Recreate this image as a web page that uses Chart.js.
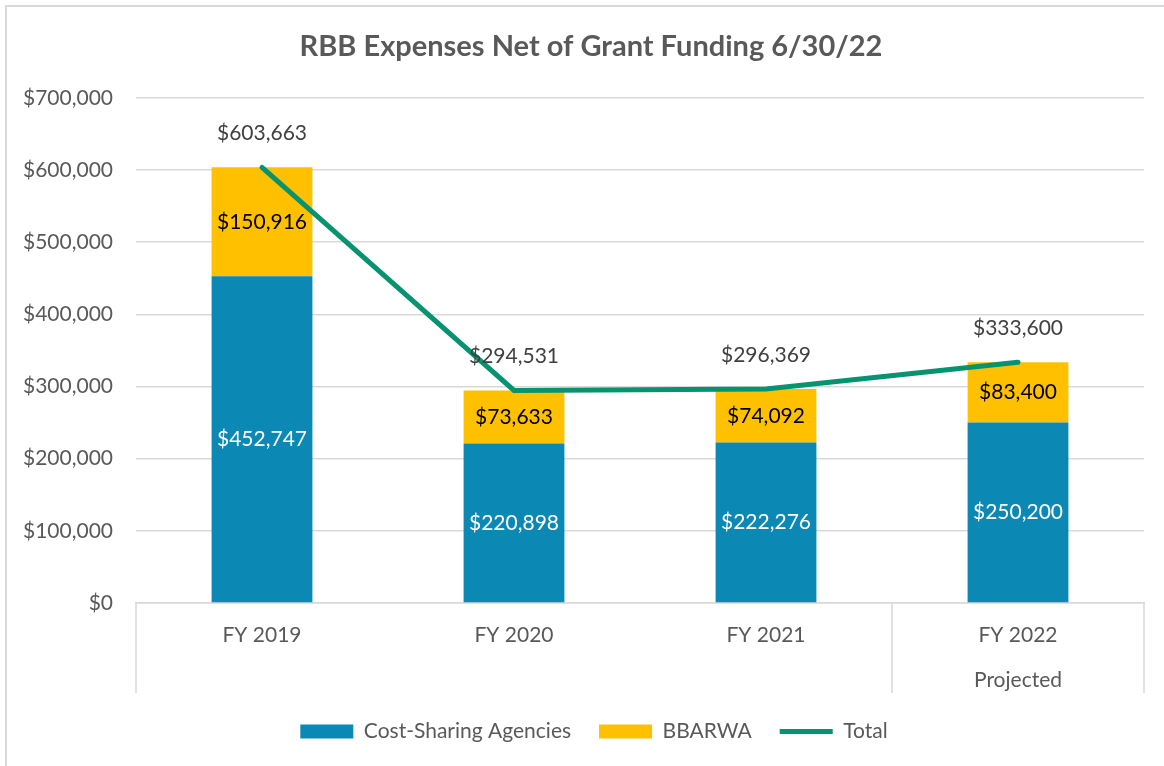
<!DOCTYPE html>
<html lang="en">
<head>
  <meta charset="UTF-8">
  <title>RBB Expenses Net of Grant Funding 6/30/22</title>
  <script src="https://cdn.jsdelivr.net/npm/chart.js"></script>
  <style>
    html, body {
      margin: 0;
      padding: 0;
      background: #fff;
      overflow: hidden;
    }
    #wrap {
      position: relative;
      width: 1164px;
      height: 766px;
    }
    #frame {
      position: absolute;
      left: 5px;
      top: 5px;
      width: 1200px;
      height: 800px;
      border: 2px solid #d9d9d9;
      pointer-events: none;
    }
  </style>
</head>
<body>
  <div id="wrap">
    <div id="frame"></div>
    <canvas id="chart" width="1164" height="766"></canvas>
  </div>

  <script>
    const years = [["FY 2019"], ["FY 2020"], ["FY 2021"], ["FY 2022", "Projected"]];
    const costSharing = [452747, 220898, 222276, 250200];
    const bbarwa = [150916, 73633, 74092, 83400];
    const totals = [603663, 294531, 296369, 333600];
    const yTicks = [0, 100000, 200000, 300000, 400000, 500000, 600000, 700000];

    const money = v => "$" + Number(v).toLocaleString("en-US");
    const FONT = "Lato, 'Open Sans', sans-serif";

    // value labels on bars and above the total line
    const valueLabels = {
      id: "valueLabels",
      afterDatasetsDraw(chart) {
        const ctx = chart.ctx;
        ctx.save();
        ctx.textAlign = "center";
        ctx.textBaseline = "middle";
        ctx.font = "21px " + FONT;
        chart.data.datasets.forEach((ds, i) => {
          const meta = chart.getDatasetMeta(i);
          meta.data.forEach((el, j) => {
            const v = ds.data[j];
            if (ds.type === "line") {
              ctx.fillStyle = "#404040";
              ctx.fillText(money(v), el.x, el.y - 34);
            } else {
              const c = el.getCenterPoint();
              ctx.fillStyle = ds.labelColor;
              ctx.fillText(money(v), c.x, c.y);
            }
          });
        });
        ctx.restore();
      }
    };

    // group dividers under the category axis; title/legend nudged like the original
    const groupLines = {
      id: "groupLines",
      afterLayout(chart) {
        if (chart.legend) {
          chart.legend.left += 22;
          chart.legend.right += 22;
        }
        if (chart.titleBlock) {
          chart.titleBlock.left += 19;
          chart.titleBlock.right += 19;
        }
      },
      afterDraw(chart) {
        const ctx = chart.ctx;
        const x = chart.scales.x;
        const area = chart.chartArea;
        const xs = [area.left, (x.getPixelForValue(2) + x.getPixelForValue(3)) / 2, area.right];
        ctx.save();
        ctx.strokeStyle = "#d9d9d9";
        ctx.lineWidth = 1.5;
        xs.forEach(px => {
          ctx.beginPath();
          ctx.moveTo(px, area.bottom);
          ctx.lineTo(px, x.bottom);
          ctx.stroke();
        });
        ctx.restore();
      }
    };

    new Chart(document.getElementById("chart").getContext("2d"), {
      data: {
        labels: years,
        datasets: [
          {
            type: "bar",
            label: "Cost-Sharing Agencies",
            data: costSharing,
            backgroundColor: "#0b88b3",
            labelColor: "#ffffff",
            pointStyle: "rect",
            order: 2
          },
          {
            type: "bar",
            label: "BBARWA",
            data: bbarwa,
            backgroundColor: "#ffc000",
            labelColor: "#000000",
            pointStyle: "rect",
            order: 2
          },
          {
            type: "line",
            label: "Total",
            data: totals,
            borderColor: "#07936f",
            backgroundColor: "#07936f",
            borderWidth: 5,
            borderCapStyle: "round",
            pointRadius: 0,
            pointStyle: "line",
            tension: 0,
            stack: "total",
            order: 1
          }
        ]
      },
      options: {
        responsive: false,
        animation: false,
        layout: { padding: { left: 0, right: 20, top: 0, bottom: 14 } },
        datasets: {
          bar: { categoryPercentage: 0.8, barPercentage: 0.5 }
        },
        scales: {
          x: {
            stacked: true,
            grid: { display: false },
            border: { color: "#d9d9d9", width: 1.5 },
            ticks: {
              color: "#595959",
              padding: 2,
              font: { family: FONT, size: 21, lineHeight: 2.15 }
            },
            afterFit: s => { s.height = 90; }
          },
          y: {
            stacked: true,
            min: 0,
            max: 700000,
            afterBuildTicks: s => { s.ticks = yTicks.map(v => ({ value: v })); },
            grid: { color: "#d9d9d9", lineWidth: 1.5, drawTicks: false },
            border: { display: false },
            ticks: {
              color: "#595959",
              padding: 23,
              font: { family: FONT, size: 21 },
              callback: v => money(v)
            },
            afterFit: s => { s.width = 136; }
          }
        },
        plugins: {
          title: {
            display: true,
            text: "RBB Expenses Net of Grant Funding 6/30/22",
            color: "#595959",
            font: { family: FONT, size: 29, weight: "bold" },
            padding: { top: 29, bottom: 34 }
          },
          legend: {
            position: "bottom",
            labels: {
              color: "#595959",
              font: { family: FONT, size: 21 },
              usePointStyle: true,
              pointStyleWidth: 53,
              boxHeight: 14,
              padding: 28,
              sort: (a, b) => a.datasetIndex - b.datasetIndex
            }
          },
          tooltip: { enabled: false }
        }
      },
      plugins: [valueLabels, groupLines]
    });
  </script>
</body>
</html>
